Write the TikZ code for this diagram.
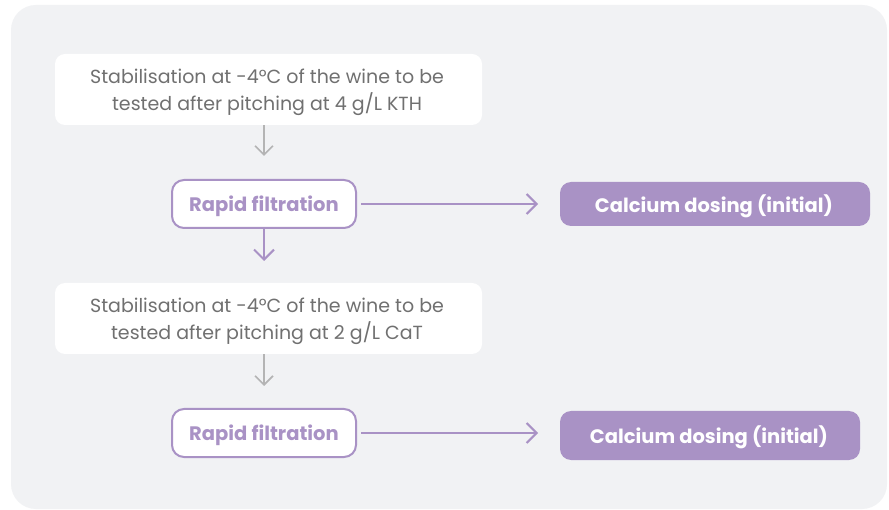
\documentclass[tikz,border=0pt]{standalone}
\usepackage{fontspec}
\setmainfont{Poppins}
\usetikzlibrary{arrows.meta}
\definecolor{bgc}{HTML}{F1F2F4}
\definecolor{purp}{HTML}{A992C5}
\definecolor{graytxt}{HTML}{707070}
\definecolor{grayarr}{HTML}{B4B4B4}
\tikzset{
  x=1pt, y=-1pt,
  stagebox/.style={fill=white, rounded corners=10pt, minimum width=427pt, minimum height=71pt,
    align=center, text=graytxt, font=\fontsize{19}{27}\selectfont, inner sep=0pt},
  filtbox/.style={draw=purp, line width=2pt, fill=white, rounded corners=12pt, minimum width=184pt,
    minimum height=48pt, text=purp, font=\fontsize{19.5}{20}\selectfont\bfseries, inner sep=0pt},
  calbox/.style={fill=purp, rounded corners=11pt, text=white, font=\fontsize{19.5}{20}\selectfont\bfseries, inner sep=0pt},
  grayflow/.style={draw=grayarr, line width=1.6pt, -{Straight Barb[length=9pt,width=18pt,line width=1.6pt]}},
  purpflow/.style={draw=purp, line width=2pt, -{Straight Barb[length=10pt,width=20pt,line width=2pt]}}
}
\begin{document}
\begin{tikzpicture}
\useasboundingbox (0,0) rectangle (889,510);
\fill[white] (0,0) rectangle (889,510);
\fill[bgc, rounded corners=25pt] (11,5) rectangle (887,509);

\node[stagebox] (s1) at (268.5,89.5) {};
\node[text=graytxt, font=\fontsize{19}{27}\selectfont, align=center, inner sep=0pt] (t1) at (267,92) {Stabilisation at -4°C of the wine to be\\tested after pitching at 4 g/L KTH};
\node[filtbox] (f1) at (264,204) {};
\node[text=purp, font=\fontsize{19.5}{20}\selectfont\bfseries, inner sep=0pt] (l1) at (264,206) {Rapid filtration};
\node[calbox, minimum width=310pt, minimum height=44pt] (c1) at (715,204) {};
\node[text=white, font=\fontsize{19.5}{20}\selectfont\bfseries, inner sep=0pt] (m1) at (714,206.5) {Calcium dosing (initial)};

\node[stagebox] (s2) at (268.5,318.5) {};
\node[text=graytxt, font=\fontsize{19}{27}\selectfont, align=center, inner sep=0pt] (t2) at (267,321) {Stabilisation at -4°C of the wine to be\\tested after pitching at 2 g/L CaT};
\node[filtbox] (f2) at (264,433) {};
\node[text=purp, font=\fontsize{19.5}{20}\selectfont\bfseries, inner sep=0pt] (l2) at (264,435) {Rapid filtration};
\node[calbox, minimum width=300pt, minimum height=49pt] (c2) at (710,435.5) {};
\node[text=white, font=\fontsize{19.5}{20}\selectfont\bfseries, inner sep=0pt] (m2) at (709,437.5) {Calcium dosing (initial)};

\coordinate (a1) at (264,156);
\coordinate (a2) at (264,261);
\coordinate (a3) at (264,386);
\coordinate (h1) at (538,204);
\coordinate (h2) at (538,433);

\draw[grayflow] (s1.south -| a1) -- (a1);
\draw[purpflow] (f1.south) -- (a2);
\draw[grayflow] (s2.south -| a3) -- (a3);
\draw[purpflow] ([xshift=4pt]f1.east) -- (h1);
\draw[purpflow] ([xshift=4pt]f2.east) -- (h2);
\end{tikzpicture}
\end{document}
